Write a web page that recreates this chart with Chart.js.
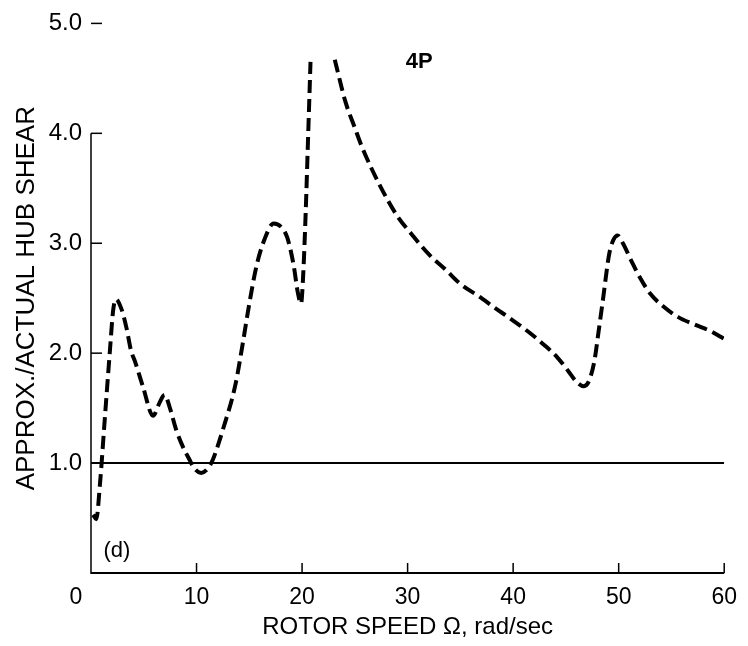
<!DOCTYPE html>
<html>
<head>
<meta charset="utf-8">
<script src="https://cdn.jsdelivr.net/npm/chart.js@4.4.0/dist/chart.umd.min.js"></script>
<style>
  body { margin: 0; background: #fff; }
  canvas { display: block; }
</style>
</head>
<body>
<canvas id="chart" width="748" height="646"></canvas>
<script>
// rotor speed (rad/sec) vs approx./actual hub shear
// null = curve goes off the top near the resonance around 22 rad/sec
const speed = [0.2, 0.5, 0.85, 1.32, 1.79, 2.1, 2.36, 2.89, 3.36, 3.8,
    4.15, 4.94, 5.88, 6.5, 6.98, 7.45, 8.08, 8.7, 9.34, 9.8,
    10.44, 11.07, 11.54, 12.48, 13.7, 14.4, 15.0, 15.7, 16.5, 17.3,
    18.0, 18.6, 19.2, 19.6, 19.9, 20.1, 20.35, 20.55, 20.8, 22.0,
    23.1, 24.1, 25.0, 25.7, 27.3, 29.0, 30.4, 32.0, 33.6, 35.0,
    36.7, 38.3, 39.8, 41.5, 43.0, 44.2, 45.2, 46.0, 46.7, 47.2,
    47.7, 48.1, 48.5, 49.1, 49.5, 49.9, 50.4, 51.2, 52.0, 53.0,
    54.3, 55.6, 57.2, 58.7, 60];
const shearRatio = [0.53, 0.49, 0.81, 1.42, 2.02, 2.39, 2.49, 2.40, 2.23, 2.02,
    1.93, 1.69, 1.43, 1.55, 1.62, 1.51, 1.30, 1.15, 1.03, 0.95,
    0.91, 0.95, 1.03, 1.30, 1.72, 2.1, 2.45, 2.8, 3.05, 3.18,
    3.15, 3.05, 2.8, 2.55, 2.45, 2.7, 3.3, 3.9, 4.65, null,
    4.67, 4.29, 4.05, 3.87, 3.54, 3.25, 3.08, 2.90, 2.76, 2.63,
    2.52, 2.41, 2.31, 2.19, 2.07, 1.96, 1.84, 1.74, 1.70, 1.75,
    1.93, 2.2, 2.48, 2.90, 3.03, 3.07, 3.0, 2.84, 2.69, 2.54,
    2.42, 2.33, 2.26, 2.20, 2.13];

// exact ratio = 1.0 reference line
const refSpeed = [0, 60];
const refRatio = [1, 1];

const xTicks = [0, 10, 20, 30, 40, 50, 60];
const yTicks = [1, 2, 3, 4, 5];

const FONT = '"Liberation Sans", Arial, sans-serif';

// axes are drawn by hand: ticks point inward and the y line stops at 4.0
const axisMarks = {
    id: 'axisMarks',
    afterDatasetsDraw(chart) {
        const { ctx, scales: { x, y } } = chart;
        const x0 = x.getPixelForValue(0);
        const y0 = y.getPixelForValue(0);
        ctx.save();
        ctx.strokeStyle = '#000';
        ctx.fillStyle = '#000';

        ctx.lineWidth = 2;
        ctx.beginPath();
        ctx.moveTo(x0, y0);
        ctx.lineTo(x.getPixelForValue(60), y0);
        ctx.stroke();

        ctx.lineWidth = 1.5;
        ctx.beginPath();
        ctx.moveTo(x0, y0 + 1);
        ctx.lineTo(x0, y.getPixelForValue(4));
        ctx.stroke();

        xTicks.slice(1).forEach(v => {
            const px = x.getPixelForValue(v);
            ctx.beginPath();
            ctx.moveTo(px, y0);
            ctx.lineTo(px, y0 - 10);
            ctx.stroke();
        });
        yTicks.forEach(v => {
            const py = y.getPixelForValue(v);
            ctx.beginPath();
            ctx.moveTo(x0, py);
            ctx.lineTo(x0 + 11, py);
            ctx.stroke();
        });

        // the "0" sits left of the origin in the original
        ctx.font = '23px ' + FONT;
        ctx.textAlign = 'center';
        ctx.textBaseline = 'middle';
        ctx.fillText('0', x0 - 15, y0 + 25);

        ctx.font = 'bold 22px ' + FONT;
        ctx.fillText('4P', x.getPixelForValue(31.1), y.getPixelForValue(4.65));

        ctx.font = '22px ' + FONT;
        ctx.fillText('(d)', x.getPixelForValue(2.45), y.getPixelForValue(0.2));
        ctx.restore();
    }
};

const ctx = document.getElementById('chart').getContext('2d');
const chart = new Chart(ctx, {
    type: 'line',
    data: {
        datasets: [{
            label: 'Approx./actual',
            data: speed.map((s, i) => ({ x: s, y: shearRatio[i] })),
            borderColor: '#000',
            borderWidth: 4,
            borderDash: [13, 6],
            pointRadius: 0,
            cubicInterpolationMode: 'monotone',
            spanGaps: false,
            fill: false
        }, {
            label: 'Exact',
            data: refSpeed.map((s, i) => ({ x: s, y: refRatio[i] })),
            borderColor: '#000',
            borderWidth: 2,
            pointRadius: 0,
            fill: false
        }]
    },
    options: {
        responsive: false,
        animation: false,
        layout: { padding: { left: 11, right: 20, top: 22, bottom: 4 } },
        plugins: {
            legend: { display: false },
            tooltip: { enabled: false }
        },
        scales: {
            x: {
                type: 'linear',
                min: 0,
                max: 60,
                afterBuildTicks: scale => { scale.ticks = xTicks.map(v => ({ value: v })); },
                afterFit: scale => { scale.height = 69; },
                grid: { display: false, drawTicks: false },
                border: { display: false },
                ticks: {
                    color: '#000',
                    padding: 11,
                    maxRotation: 0,
                    font: { family: FONT, size: 23 },
                    callback: v => (v === 0 ? '' : String(v))
                },
                title: {
                    display: true,
                    text: 'ROTOR SPEED \u03A9, rad/sec',
                    color: '#000',
                    font: { family: FONT, size: 24 },
                    padding: 0
                }
            },
            y: {
                min: 0,
                max: 5,
                afterBuildTicks: scale => { scale.ticks = yTicks.map(v => ({ value: v })); },
                afterFit: scale => { scale.width = 80; },
                grid: { display: false, drawTicks: false },
                border: { display: false },
                ticks: {
                    color: '#000',
                    padding: 9,
                    font: { family: FONT, size: 24 },
                    callback: v => v.toFixed(1)
                },
                title: {
                    display: true,
                    text: 'APPROX./ACTUAL HUB SHEAR',
                    color: '#000',
                    font: { family: FONT, size: 26 },
                    padding: 0
                }
            }
        }
    },
    plugins: [axisMarks]
});
</script>
</body>
</html>
